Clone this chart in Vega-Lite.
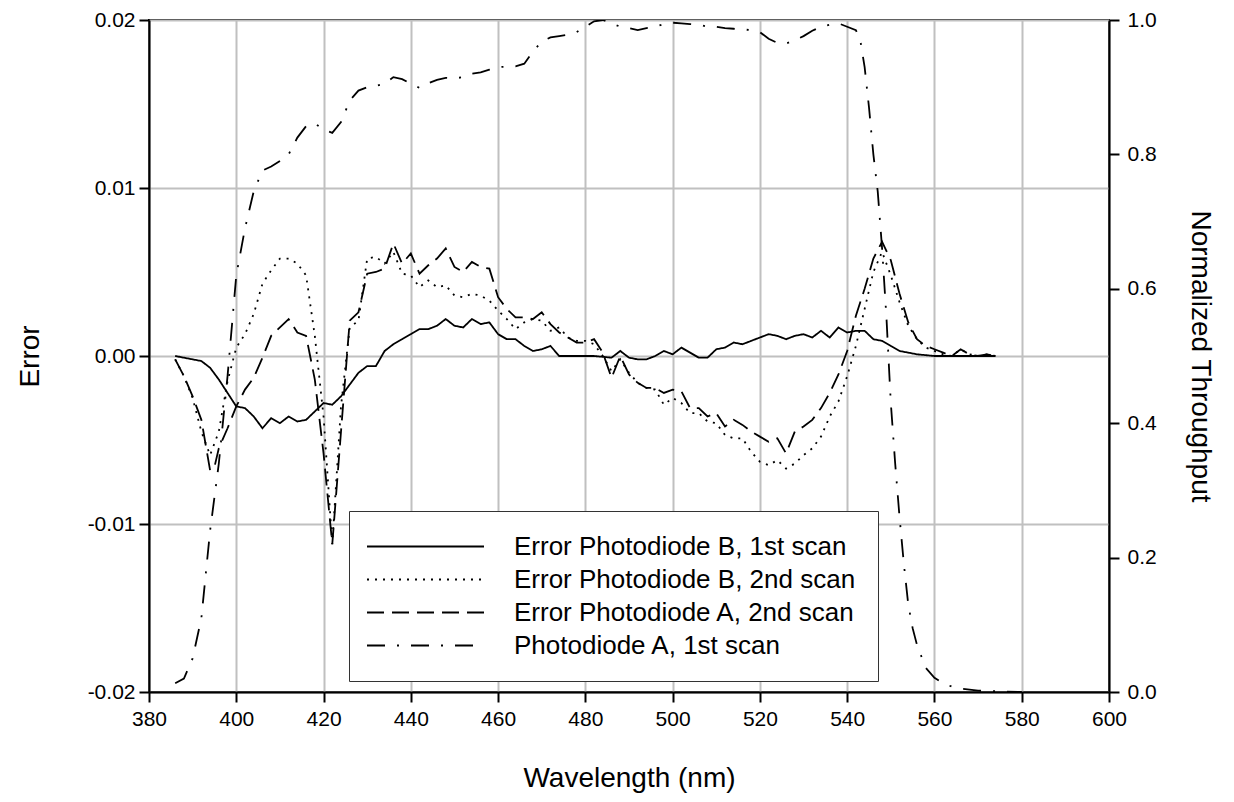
{
  "$schema": "https://vega.github.io/schema/vega-lite/v6.json",
  "width": 960,
  "height": 672,
  "autosize": "none",
  "padding": {"left": 149, "top": 20, "right": 125, "bottom": 110},
  "background": "white",
  "config": {
    "font": "Liberation Sans",
    "view": {"stroke": "black", "strokeWidth": 2},
    "axis": {
      "labelFont": "Liberation Sans", "titleFont": "Liberation Sans",
      "labelFontSize": 21, "titleFontSize": 28, "titleFontWeight": "normal",
      "labelColor": "black", "titleColor": "black",
      "domainColor": "black", "domainWidth": 2,
      "tickColor": "black", "tickWidth": 2, "tickSize": 10,
      "gridColor": "#c0c0c0", "gridWidth": 2, "gridOpacity": 1,
      "labelFlush": false, "labelOverlap": false
    },
    "legend": {
      "orient": "none", "legendX": 200, "legendY": 491,
      "padding": 22, "strokeColor": "#333333", "fillColor": "white", "strokeWidth": 1,
      "labelFont": "Liberation Sans", "labelFontSize": 26, "labelColor": "black", "labelLimit": 800,
      "symbolType": "M-4.68,0H4.68", "symbolSize": 625, "symbolStrokeWidth": 1.8,
      "symbolStrokeColor": "black", "symbolFillColor": "transparent",
      "symbolOffset": 41, "labelOffset": 75, "rowPadding": 6, "title": null
    }
  },
  "datasets": {
    "err": [
      {"series": "Error Photodiode B, 1st scan", "nm": 386, "v": 0},
      {"series": "Error Photodiode B, 1st scan", "nm": 388, "v": -0.0001},
      {"series": "Error Photodiode B, 1st scan", "nm": 390, "v": -0.0002},
      {"series": "Error Photodiode B, 1st scan", "nm": 392, "v": -0.0003},
      {"series": "Error Photodiode B, 1st scan", "nm": 394, "v": -0.0007},
      {"series": "Error Photodiode B, 1st scan", "nm": 396, "v": -0.0014},
      {"series": "Error Photodiode B, 1st scan", "nm": 398, "v": -0.0022},
      {"series": "Error Photodiode B, 1st scan", "nm": 400, "v": -0.0030},
      {"series": "Error Photodiode B, 1st scan", "nm": 402, "v": -0.0031},
      {"series": "Error Photodiode B, 1st scan", "nm": 404, "v": -0.0036},
      {"series": "Error Photodiode B, 1st scan", "nm": 406, "v": -0.0043},
      {"series": "Error Photodiode B, 1st scan", "nm": 408, "v": -0.0037},
      {"series": "Error Photodiode B, 1st scan", "nm": 410, "v": -0.0040},
      {"series": "Error Photodiode B, 1st scan", "nm": 412, "v": -0.0036},
      {"series": "Error Photodiode B, 1st scan", "nm": 414, "v": -0.0039},
      {"series": "Error Photodiode B, 1st scan", "nm": 416, "v": -0.0038},
      {"series": "Error Photodiode B, 1st scan", "nm": 418, "v": -0.0033},
      {"series": "Error Photodiode B, 1st scan", "nm": 420, "v": -0.0028},
      {"series": "Error Photodiode B, 1st scan", "nm": 422, "v": -0.0029},
      {"series": "Error Photodiode B, 1st scan", "nm": 424, "v": -0.0024},
      {"series": "Error Photodiode B, 1st scan", "nm": 426, "v": -0.0017},
      {"series": "Error Photodiode B, 1st scan", "nm": 428, "v": -0.0010},
      {"series": "Error Photodiode B, 1st scan", "nm": 430, "v": -0.0006},
      {"series": "Error Photodiode B, 1st scan", "nm": 432, "v": -0.0006},
      {"series": "Error Photodiode B, 1st scan", "nm": 434, "v": 0.0003},
      {"series": "Error Photodiode B, 1st scan", "nm": 436, "v": 0.0007},
      {"series": "Error Photodiode B, 1st scan", "nm": 438, "v": 0.0010},
      {"series": "Error Photodiode B, 1st scan", "nm": 440, "v": 0.0013},
      {"series": "Error Photodiode B, 1st scan", "nm": 442, "v": 0.0016},
      {"series": "Error Photodiode B, 1st scan", "nm": 444, "v": 0.0016},
      {"series": "Error Photodiode B, 1st scan", "nm": 446, "v": 0.0018},
      {"series": "Error Photodiode B, 1st scan", "nm": 448, "v": 0.0022},
      {"series": "Error Photodiode B, 1st scan", "nm": 450, "v": 0.0018},
      {"series": "Error Photodiode B, 1st scan", "nm": 452, "v": 0.0017},
      {"series": "Error Photodiode B, 1st scan", "nm": 454, "v": 0.0022},
      {"series": "Error Photodiode B, 1st scan", "nm": 456, "v": 0.0019},
      {"series": "Error Photodiode B, 1st scan", "nm": 458, "v": 0.0020},
      {"series": "Error Photodiode B, 1st scan", "nm": 460, "v": 0.0013},
      {"series": "Error Photodiode B, 1st scan", "nm": 462, "v": 0.0010},
      {"series": "Error Photodiode B, 1st scan", "nm": 464, "v": 0.0010},
      {"series": "Error Photodiode B, 1st scan", "nm": 466, "v": 0.0006},
      {"series": "Error Photodiode B, 1st scan", "nm": 468, "v": 0.0003},
      {"series": "Error Photodiode B, 1st scan", "nm": 470, "v": 0.0004},
      {"series": "Error Photodiode B, 1st scan", "nm": 472, "v": 0.0006},
      {"series": "Error Photodiode B, 1st scan", "nm": 474, "v": 0.0},
      {"series": "Error Photodiode B, 1st scan", "nm": 478, "v": 0.0},
      {"series": "Error Photodiode B, 1st scan", "nm": 482, "v": 0.0},
      {"series": "Error Photodiode B, 1st scan", "nm": 486, "v": -0.0001},
      {"series": "Error Photodiode B, 1st scan", "nm": 488, "v": 0.0003},
      {"series": "Error Photodiode B, 1st scan", "nm": 490, "v": -0.0001},
      {"series": "Error Photodiode B, 1st scan", "nm": 492, "v": -0.0002},
      {"series": "Error Photodiode B, 1st scan", "nm": 494, "v": -0.0002},
      {"series": "Error Photodiode B, 1st scan", "nm": 496, "v": 0.0},
      {"series": "Error Photodiode B, 1st scan", "nm": 498, "v": 0.0003},
      {"series": "Error Photodiode B, 1st scan", "nm": 500, "v": 0.0001},
      {"series": "Error Photodiode B, 1st scan", "nm": 502, "v": 0.0005},
      {"series": "Error Photodiode B, 1st scan", "nm": 504, "v": 0.0002},
      {"series": "Error Photodiode B, 1st scan", "nm": 506, "v": -0.0001},
      {"series": "Error Photodiode B, 1st scan", "nm": 508, "v": -0.0001},
      {"series": "Error Photodiode B, 1st scan", "nm": 510, "v": 0.0004},
      {"series": "Error Photodiode B, 1st scan", "nm": 512, "v": 0.0005},
      {"series": "Error Photodiode B, 1st scan", "nm": 514, "v": 0.0008},
      {"series": "Error Photodiode B, 1st scan", "nm": 516, "v": 0.0007},
      {"series": "Error Photodiode B, 1st scan", "nm": 518, "v": 0.0009},
      {"series": "Error Photodiode B, 1st scan", "nm": 520, "v": 0.0011},
      {"series": "Error Photodiode B, 1st scan", "nm": 522, "v": 0.0013},
      {"series": "Error Photodiode B, 1st scan", "nm": 524, "v": 0.0012},
      {"series": "Error Photodiode B, 1st scan", "nm": 526, "v": 0.0010},
      {"series": "Error Photodiode B, 1st scan", "nm": 528, "v": 0.0012},
      {"series": "Error Photodiode B, 1st scan", "nm": 530, "v": 0.0013},
      {"series": "Error Photodiode B, 1st scan", "nm": 532, "v": 0.0011},
      {"series": "Error Photodiode B, 1st scan", "nm": 534, "v": 0.0015},
      {"series": "Error Photodiode B, 1st scan", "nm": 536, "v": 0.0011},
      {"series": "Error Photodiode B, 1st scan", "nm": 538, "v": 0.0017},
      {"series": "Error Photodiode B, 1st scan", "nm": 540, "v": 0.0014},
      {"series": "Error Photodiode B, 1st scan", "nm": 542, "v": 0.0015},
      {"series": "Error Photodiode B, 1st scan", "nm": 544, "v": 0.0015},
      {"series": "Error Photodiode B, 1st scan", "nm": 546, "v": 0.0010},
      {"series": "Error Photodiode B, 1st scan", "nm": 548, "v": 0.0009},
      {"series": "Error Photodiode B, 1st scan", "nm": 550, "v": 0.0006},
      {"series": "Error Photodiode B, 1st scan", "nm": 552, "v": 0.0003},
      {"series": "Error Photodiode B, 1st scan", "nm": 554, "v": 0.0002},
      {"series": "Error Photodiode B, 1st scan", "nm": 556, "v": 0.0001},
      {"series": "Error Photodiode B, 1st scan", "nm": 560, "v": 0.0},
      {"series": "Error Photodiode B, 1st scan", "nm": 566, "v": 0.0},
      {"series": "Error Photodiode B, 1st scan", "nm": 574, "v": 0.0},

      {"series": "Error Photodiode B, 2nd scan", "nm": 386, "v": -0.0002},
      {"series": "Error Photodiode B, 2nd scan", "nm": 388, "v": -0.0012},
      {"series": "Error Photodiode B, 2nd scan", "nm": 390, "v": -0.0025},
      {"series": "Error Photodiode B, 2nd scan", "nm": 392, "v": -0.0045},
      {"series": "Error Photodiode B, 2nd scan", "nm": 394, "v": -0.0059},
      {"series": "Error Photodiode B, 2nd scan", "nm": 396, "v": -0.0045},
      {"series": "Error Photodiode B, 2nd scan", "nm": 398, "v": -0.0015},
      {"series": "Error Photodiode B, 2nd scan", "nm": 400, "v": 0.0005},
      {"series": "Error Photodiode B, 2nd scan", "nm": 402, "v": 0.0013},
      {"series": "Error Photodiode B, 2nd scan", "nm": 404, "v": 0.0025},
      {"series": "Error Photodiode B, 2nd scan", "nm": 406, "v": 0.0043},
      {"series": "Error Photodiode B, 2nd scan", "nm": 408, "v": 0.0051},
      {"series": "Error Photodiode B, 2nd scan", "nm": 410, "v": 0.0058},
      {"series": "Error Photodiode B, 2nd scan", "nm": 412, "v": 0.0058},
      {"series": "Error Photodiode B, 2nd scan", "nm": 414, "v": 0.0055},
      {"series": "Error Photodiode B, 2nd scan", "nm": 416, "v": 0.0048},
      {"series": "Error Photodiode B, 2nd scan", "nm": 418, "v": 0.0012},
      {"series": "Error Photodiode B, 2nd scan", "nm": 420, "v": -0.0036},
      {"series": "Error Photodiode B, 2nd scan", "nm": 422, "v": -0.0112},
      {"series": "Error Photodiode B, 2nd scan", "nm": 424, "v": -0.0030},
      {"series": "Error Photodiode B, 2nd scan", "nm": 426, "v": 0.0017},
      {"series": "Error Photodiode B, 2nd scan", "nm": 428, "v": 0.0021},
      {"series": "Error Photodiode B, 2nd scan", "nm": 430, "v": 0.0058},
      {"series": "Error Photodiode B, 2nd scan", "nm": 432, "v": 0.0059},
      {"series": "Error Photodiode B, 2nd scan", "nm": 434, "v": 0.0055},
      {"series": "Error Photodiode B, 2nd scan", "nm": 436, "v": 0.0062},
      {"series": "Error Photodiode B, 2nd scan", "nm": 438, "v": 0.0049},
      {"series": "Error Photodiode B, 2nd scan", "nm": 440, "v": 0.0048},
      {"series": "Error Photodiode B, 2nd scan", "nm": 442, "v": 0.0041},
      {"series": "Error Photodiode B, 2nd scan", "nm": 444, "v": 0.0045},
      {"series": "Error Photodiode B, 2nd scan", "nm": 446, "v": 0.0041},
      {"series": "Error Photodiode B, 2nd scan", "nm": 448, "v": 0.0042},
      {"series": "Error Photodiode B, 2nd scan", "nm": 450, "v": 0.0036},
      {"series": "Error Photodiode B, 2nd scan", "nm": 452, "v": 0.0035},
      {"series": "Error Photodiode B, 2nd scan", "nm": 454, "v": 0.0037},
      {"series": "Error Photodiode B, 2nd scan", "nm": 456, "v": 0.0036},
      {"series": "Error Photodiode B, 2nd scan", "nm": 458, "v": 0.0033},
      {"series": "Error Photodiode B, 2nd scan", "nm": 460, "v": 0.0027},
      {"series": "Error Photodiode B, 2nd scan", "nm": 462, "v": 0.0022},
      {"series": "Error Photodiode B, 2nd scan", "nm": 464, "v": 0.0016},
      {"series": "Error Photodiode B, 2nd scan", "nm": 466, "v": 0.0020},
      {"series": "Error Photodiode B, 2nd scan", "nm": 468, "v": 0.0022},
      {"series": "Error Photodiode B, 2nd scan", "nm": 470, "v": 0.0021},
      {"series": "Error Photodiode B, 2nd scan", "nm": 472, "v": 0.0015},
      {"series": "Error Photodiode B, 2nd scan", "nm": 474, "v": 0.0017},
      {"series": "Error Photodiode B, 2nd scan", "nm": 476, "v": 0.0011},
      {"series": "Error Photodiode B, 2nd scan", "nm": 478, "v": 0.0009},
      {"series": "Error Photodiode B, 2nd scan", "nm": 480, "v": 0.0009},
      {"series": "Error Photodiode B, 2nd scan", "nm": 482, "v": 0.0007},
      {"series": "Error Photodiode B, 2nd scan", "nm": 484, "v": 0.0},
      {"series": "Error Photodiode B, 2nd scan", "nm": 486, "v": -0.0009},
      {"series": "Error Photodiode B, 2nd scan", "nm": 488, "v": -0.0002},
      {"series": "Error Photodiode B, 2nd scan", "nm": 490, "v": -0.0010},
      {"series": "Error Photodiode B, 2nd scan", "nm": 492, "v": -0.0016},
      {"series": "Error Photodiode B, 2nd scan", "nm": 494, "v": -0.0019},
      {"series": "Error Photodiode B, 2nd scan", "nm": 496, "v": -0.0020},
      {"series": "Error Photodiode B, 2nd scan", "nm": 498, "v": -0.0029},
      {"series": "Error Photodiode B, 2nd scan", "nm": 500, "v": -0.0025},
      {"series": "Error Photodiode B, 2nd scan", "nm": 502, "v": -0.0028},
      {"series": "Error Photodiode B, 2nd scan", "nm": 504, "v": -0.0034},
      {"series": "Error Photodiode B, 2nd scan", "nm": 506, "v": -0.0034},
      {"series": "Error Photodiode B, 2nd scan", "nm": 508, "v": -0.0039},
      {"series": "Error Photodiode B, 2nd scan", "nm": 510, "v": -0.0040},
      {"series": "Error Photodiode B, 2nd scan", "nm": 512, "v": -0.0047},
      {"series": "Error Photodiode B, 2nd scan", "nm": 514, "v": -0.0049},
      {"series": "Error Photodiode B, 2nd scan", "nm": 516, "v": -0.0049},
      {"series": "Error Photodiode B, 2nd scan", "nm": 518, "v": -0.0057},
      {"series": "Error Photodiode B, 2nd scan", "nm": 520, "v": -0.0063},
      {"series": "Error Photodiode B, 2nd scan", "nm": 522, "v": -0.0065},
      {"series": "Error Photodiode B, 2nd scan", "nm": 524, "v": -0.0062},
      {"series": "Error Photodiode B, 2nd scan", "nm": 526, "v": -0.0067},
      {"series": "Error Photodiode B, 2nd scan", "nm": 528, "v": -0.0064},
      {"series": "Error Photodiode B, 2nd scan", "nm": 530, "v": -0.0059},
      {"series": "Error Photodiode B, 2nd scan", "nm": 532, "v": -0.0055},
      {"series": "Error Photodiode B, 2nd scan", "nm": 534, "v": -0.0048},
      {"series": "Error Photodiode B, 2nd scan", "nm": 536, "v": -0.0036},
      {"series": "Error Photodiode B, 2nd scan", "nm": 538, "v": -0.0027},
      {"series": "Error Photodiode B, 2nd scan", "nm": 540, "v": -0.0012},
      {"series": "Error Photodiode B, 2nd scan", "nm": 542, "v": 0.0006},
      {"series": "Error Photodiode B, 2nd scan", "nm": 544, "v": 0.0028},
      {"series": "Error Photodiode B, 2nd scan", "nm": 546, "v": 0.0050},
      {"series": "Error Photodiode B, 2nd scan", "nm": 548, "v": 0.0062},
      {"series": "Error Photodiode B, 2nd scan", "nm": 550, "v": 0.0048},
      {"series": "Error Photodiode B, 2nd scan", "nm": 552, "v": 0.0032},
      {"series": "Error Photodiode B, 2nd scan", "nm": 554, "v": 0.0018},
      {"series": "Error Photodiode B, 2nd scan", "nm": 556, "v": 0.0010},
      {"series": "Error Photodiode B, 2nd scan", "nm": 558, "v": 0.0005},
      {"series": "Error Photodiode B, 2nd scan", "nm": 560, "v": 0.0003},
      {"series": "Error Photodiode B, 2nd scan", "nm": 562, "v": 0.0001},
      {"series": "Error Photodiode B, 2nd scan", "nm": 564, "v": 0.0},
      {"series": "Error Photodiode B, 2nd scan", "nm": 566, "v": 0.0004},
      {"series": "Error Photodiode B, 2nd scan", "nm": 568, "v": 0.0001},
      {"series": "Error Photodiode B, 2nd scan", "nm": 570, "v": 0.0},
      {"series": "Error Photodiode B, 2nd scan", "nm": 572, "v": 0.0001},
      {"series": "Error Photodiode B, 2nd scan", "nm": 574, "v": 0.0},

      {"series": "Error Photodiode A, 2nd scan", "nm": 386, "v": -0.0002},
      {"series": "Error Photodiode A, 2nd scan", "nm": 388, "v": -0.0012},
      {"series": "Error Photodiode A, 2nd scan", "nm": 390, "v": -0.0024},
      {"series": "Error Photodiode A, 2nd scan", "nm": 392, "v": -0.0038},
      {"series": "Error Photodiode A, 2nd scan", "nm": 394, "v": -0.0068},
      {"series": "Error Photodiode A, 2nd scan", "nm": 395, "v": -0.0066},
      {"series": "Error Photodiode A, 2nd scan", "nm": 396, "v": -0.0055},
      {"series": "Error Photodiode A, 2nd scan", "nm": 398, "v": -0.0043},
      {"series": "Error Photodiode A, 2nd scan", "nm": 400, "v": -0.0030},
      {"series": "Error Photodiode A, 2nd scan", "nm": 402, "v": -0.0020},
      {"series": "Error Photodiode A, 2nd scan", "nm": 404, "v": -0.0013},
      {"series": "Error Photodiode A, 2nd scan", "nm": 406, "v": -0.0001},
      {"series": "Error Photodiode A, 2nd scan", "nm": 408, "v": 0.0012},
      {"series": "Error Photodiode A, 2nd scan", "nm": 410, "v": 0.0017},
      {"series": "Error Photodiode A, 2nd scan", "nm": 412, "v": 0.0022},
      {"series": "Error Photodiode A, 2nd scan", "nm": 414, "v": 0.0014},
      {"series": "Error Photodiode A, 2nd scan", "nm": 416, "v": 0.0012},
      {"series": "Error Photodiode A, 2nd scan", "nm": 418, "v": -0.0014},
      {"series": "Error Photodiode A, 2nd scan", "nm": 420, "v": -0.0058},
      {"series": "Error Photodiode A, 2nd scan", "nm": 422, "v": -0.0112},
      {"series": "Error Photodiode A, 2nd scan", "nm": 424, "v": -0.0045},
      {"series": "Error Photodiode A, 2nd scan", "nm": 426, "v": 0.0021},
      {"series": "Error Photodiode A, 2nd scan", "nm": 428, "v": 0.0026},
      {"series": "Error Photodiode A, 2nd scan", "nm": 430, "v": 0.0049},
      {"series": "Error Photodiode A, 2nd scan", "nm": 432, "v": 0.0050},
      {"series": "Error Photodiode A, 2nd scan", "nm": 434, "v": 0.0052},
      {"series": "Error Photodiode A, 2nd scan", "nm": 436, "v": 0.0067},
      {"series": "Error Photodiode A, 2nd scan", "nm": 438, "v": 0.0055},
      {"series": "Error Photodiode A, 2nd scan", "nm": 440, "v": 0.0061},
      {"series": "Error Photodiode A, 2nd scan", "nm": 442, "v": 0.0049},
      {"series": "Error Photodiode A, 2nd scan", "nm": 444, "v": 0.0054},
      {"series": "Error Photodiode A, 2nd scan", "nm": 446, "v": 0.0058},
      {"series": "Error Photodiode A, 2nd scan", "nm": 448, "v": 0.0064},
      {"series": "Error Photodiode A, 2nd scan", "nm": 450, "v": 0.0053},
      {"series": "Error Photodiode A, 2nd scan", "nm": 452, "v": 0.0050},
      {"series": "Error Photodiode A, 2nd scan", "nm": 454, "v": 0.0056},
      {"series": "Error Photodiode A, 2nd scan", "nm": 456, "v": 0.0053},
      {"series": "Error Photodiode A, 2nd scan", "nm": 458, "v": 0.0052},
      {"series": "Error Photodiode A, 2nd scan", "nm": 460, "v": 0.0035},
      {"series": "Error Photodiode A, 2nd scan", "nm": 462, "v": 0.0028},
      {"series": "Error Photodiode A, 2nd scan", "nm": 464, "v": 0.0023},
      {"series": "Error Photodiode A, 2nd scan", "nm": 466, "v": 0.0023},
      {"series": "Error Photodiode A, 2nd scan", "nm": 468, "v": 0.0022},
      {"series": "Error Photodiode A, 2nd scan", "nm": 470, "v": 0.0026},
      {"series": "Error Photodiode A, 2nd scan", "nm": 472, "v": 0.0019},
      {"series": "Error Photodiode A, 2nd scan", "nm": 474, "v": 0.0014},
      {"series": "Error Photodiode A, 2nd scan", "nm": 476, "v": 0.0011},
      {"series": "Error Photodiode A, 2nd scan", "nm": 478, "v": 0.0008},
      {"series": "Error Photodiode A, 2nd scan", "nm": 480, "v": 0.0008},
      {"series": "Error Photodiode A, 2nd scan", "nm": 482, "v": 0.0010},
      {"series": "Error Photodiode A, 2nd scan", "nm": 484, "v": 0.0002},
      {"series": "Error Photodiode A, 2nd scan", "nm": 486, "v": -0.0013},
      {"series": "Error Photodiode A, 2nd scan", "nm": 488, "v": 0.0},
      {"series": "Error Photodiode A, 2nd scan", "nm": 490, "v": -0.0011},
      {"series": "Error Photodiode A, 2nd scan", "nm": 492, "v": -0.0016},
      {"series": "Error Photodiode A, 2nd scan", "nm": 494, "v": -0.0019},
      {"series": "Error Photodiode A, 2nd scan", "nm": 496, "v": -0.0019},
      {"series": "Error Photodiode A, 2nd scan", "nm": 498, "v": -0.0022},
      {"series": "Error Photodiode A, 2nd scan", "nm": 500, "v": -0.0020},
      {"series": "Error Photodiode A, 2nd scan", "nm": 502, "v": -0.0021},
      {"series": "Error Photodiode A, 2nd scan", "nm": 504, "v": -0.0031},
      {"series": "Error Photodiode A, 2nd scan", "nm": 506, "v": -0.0031},
      {"series": "Error Photodiode A, 2nd scan", "nm": 508, "v": -0.0036},
      {"series": "Error Photodiode A, 2nd scan", "nm": 510, "v": -0.0034},
      {"series": "Error Photodiode A, 2nd scan", "nm": 512, "v": -0.0042},
      {"series": "Error Photodiode A, 2nd scan", "nm": 514, "v": -0.0038},
      {"series": "Error Photodiode A, 2nd scan", "nm": 516, "v": -0.0041},
      {"series": "Error Photodiode A, 2nd scan", "nm": 518, "v": -0.0045},
      {"series": "Error Photodiode A, 2nd scan", "nm": 520, "v": -0.0048},
      {"series": "Error Photodiode A, 2nd scan", "nm": 522, "v": -0.0051},
      {"series": "Error Photodiode A, 2nd scan", "nm": 524, "v": -0.0049},
      {"series": "Error Photodiode A, 2nd scan", "nm": 526, "v": -0.0058},
      {"series": "Error Photodiode A, 2nd scan", "nm": 528, "v": -0.0045},
      {"series": "Error Photodiode A, 2nd scan", "nm": 530, "v": -0.0042},
      {"series": "Error Photodiode A, 2nd scan", "nm": 532, "v": -0.0038},
      {"series": "Error Photodiode A, 2nd scan", "nm": 534, "v": -0.0031},
      {"series": "Error Photodiode A, 2nd scan", "nm": 536, "v": -0.0022},
      {"series": "Error Photodiode A, 2nd scan", "nm": 538, "v": -0.0011},
      {"series": "Error Photodiode A, 2nd scan", "nm": 540, "v": 0.0003},
      {"series": "Error Photodiode A, 2nd scan", "nm": 542, "v": 0.0024},
      {"series": "Error Photodiode A, 2nd scan", "nm": 544, "v": 0.0040},
      {"series": "Error Photodiode A, 2nd scan", "nm": 546, "v": 0.0058},
      {"series": "Error Photodiode A, 2nd scan", "nm": 548, "v": 0.0068},
      {"series": "Error Photodiode A, 2nd scan", "nm": 550, "v": 0.0057},
      {"series": "Error Photodiode A, 2nd scan", "nm": 552, "v": 0.0037},
      {"series": "Error Photodiode A, 2nd scan", "nm": 554, "v": 0.0020},
      {"series": "Error Photodiode A, 2nd scan", "nm": 556, "v": 0.0010},
      {"series": "Error Photodiode A, 2nd scan", "nm": 558, "v": 0.0006},
      {"series": "Error Photodiode A, 2nd scan", "nm": 560, "v": 0.0004},
      {"series": "Error Photodiode A, 2nd scan", "nm": 562, "v": 0.0002},
      {"series": "Error Photodiode A, 2nd scan", "nm": 564, "v": 0.0},
      {"series": "Error Photodiode A, 2nd scan", "nm": 566, "v": 0.0004},
      {"series": "Error Photodiode A, 2nd scan", "nm": 568, "v": 0.0001},
      {"series": "Error Photodiode A, 2nd scan", "nm": 570, "v": 0.0},
      {"series": "Error Photodiode A, 2nd scan", "nm": 572, "v": 0.0001},
      {"series": "Error Photodiode A, 2nd scan", "nm": 574, "v": 0.0}
    ],
    "thr": [
      {"series": "Photodiode A, 1st scan", "nm": 386, "t": 0.013},
      {"series": "Photodiode A, 1st scan", "nm": 388, "t": 0.02},
      {"series": "Photodiode A, 1st scan", "nm": 390, "t": 0.05},
      {"series": "Photodiode A, 1st scan", "nm": 392, "t": 0.11},
      {"series": "Photodiode A, 1st scan", "nm": 394, "t": 0.24},
      {"series": "Photodiode A, 1st scan", "nm": 396, "t": 0.34},
      {"series": "Photodiode A, 1st scan", "nm": 398, "t": 0.47},
      {"series": "Photodiode A, 1st scan", "nm": 400, "t": 0.62},
      {"series": "Photodiode A, 1st scan", "nm": 402, "t": 0.69},
      {"series": "Photodiode A, 1st scan", "nm": 404, "t": 0.745},
      {"series": "Photodiode A, 1st scan", "nm": 406, "t": 0.776},
      {"series": "Photodiode A, 1st scan", "nm": 408, "t": 0.782},
      {"series": "Photodiode A, 1st scan", "nm": 410, "t": 0.79},
      {"series": "Photodiode A, 1st scan", "nm": 412, "t": 0.80},
      {"series": "Photodiode A, 1st scan", "nm": 414, "t": 0.825},
      {"series": "Photodiode A, 1st scan", "nm": 416, "t": 0.842},
      {"series": "Photodiode A, 1st scan", "nm": 418, "t": 0.846},
      {"series": "Photodiode A, 1st scan", "nm": 420, "t": 0.837},
      {"series": "Photodiode A, 1st scan", "nm": 422, "t": 0.832},
      {"series": "Photodiode A, 1st scan", "nm": 424, "t": 0.848},
      {"series": "Photodiode A, 1st scan", "nm": 426, "t": 0.88},
      {"series": "Photodiode A, 1st scan", "nm": 428, "t": 0.895},
      {"series": "Photodiode A, 1st scan", "nm": 430, "t": 0.90},
      {"series": "Photodiode A, 1st scan", "nm": 432, "t": 0.902},
      {"series": "Photodiode A, 1st scan", "nm": 434, "t": 0.905},
      {"series": "Photodiode A, 1st scan", "nm": 436, "t": 0.915},
      {"series": "Photodiode A, 1st scan", "nm": 438, "t": 0.912},
      {"series": "Photodiode A, 1st scan", "nm": 440, "t": 0.905},
      {"series": "Photodiode A, 1st scan", "nm": 442, "t": 0.899},
      {"series": "Photodiode A, 1st scan", "nm": 444, "t": 0.906},
      {"series": "Photodiode A, 1st scan", "nm": 446, "t": 0.911},
      {"series": "Photodiode A, 1st scan", "nm": 448, "t": 0.914},
      {"series": "Photodiode A, 1st scan", "nm": 450, "t": 0.913},
      {"series": "Photodiode A, 1st scan", "nm": 452, "t": 0.915},
      {"series": "Photodiode A, 1st scan", "nm": 454, "t": 0.92},
      {"series": "Photodiode A, 1st scan", "nm": 456, "t": 0.922},
      {"series": "Photodiode A, 1st scan", "nm": 458, "t": 0.926},
      {"series": "Photodiode A, 1st scan", "nm": 460, "t": 0.930},
      {"series": "Photodiode A, 1st scan", "nm": 464, "t": 0.931},
      {"series": "Photodiode A, 1st scan", "nm": 466, "t": 0.935},
      {"series": "Photodiode A, 1st scan", "nm": 468, "t": 0.953},
      {"series": "Photodiode A, 1st scan", "nm": 470, "t": 0.968},
      {"series": "Photodiode A, 1st scan", "nm": 472, "t": 0.974},
      {"series": "Photodiode A, 1st scan", "nm": 474, "t": 0.976},
      {"series": "Photodiode A, 1st scan", "nm": 476, "t": 0.978},
      {"series": "Photodiode A, 1st scan", "nm": 478, "t": 0.982},
      {"series": "Photodiode A, 1st scan", "nm": 480, "t": 0.99},
      {"series": "Photodiode A, 1st scan", "nm": 482, "t": 0.998},
      {"series": "Photodiode A, 1st scan", "nm": 484, "t": 1.0},
      {"series": "Photodiode A, 1st scan", "nm": 486, "t": 0.995},
      {"series": "Photodiode A, 1st scan", "nm": 488, "t": 0.99},
      {"series": "Photodiode A, 1st scan", "nm": 490, "t": 0.988},
      {"series": "Photodiode A, 1st scan", "nm": 492, "t": 0.985},
      {"series": "Photodiode A, 1st scan", "nm": 494, "t": 0.988},
      {"series": "Photodiode A, 1st scan", "nm": 496, "t": 0.99},
      {"series": "Photodiode A, 1st scan", "nm": 498, "t": 0.994},
      {"series": "Photodiode A, 1st scan", "nm": 500, "t": 0.996},
      {"series": "Photodiode A, 1st scan", "nm": 502, "t": 0.995},
      {"series": "Photodiode A, 1st scan", "nm": 504, "t": 0.994},
      {"series": "Photodiode A, 1st scan", "nm": 506, "t": 0.993},
      {"series": "Photodiode A, 1st scan", "nm": 508, "t": 0.99},
      {"series": "Photodiode A, 1st scan", "nm": 510, "t": 0.99},
      {"series": "Photodiode A, 1st scan", "nm": 512, "t": 0.988},
      {"series": "Photodiode A, 1st scan", "nm": 514, "t": 0.987},
      {"series": "Photodiode A, 1st scan", "nm": 516, "t": 0.986},
      {"series": "Photodiode A, 1st scan", "nm": 518, "t": 0.985},
      {"series": "Photodiode A, 1st scan", "nm": 520, "t": 0.982},
      {"series": "Photodiode A, 1st scan", "nm": 522, "t": 0.972},
      {"series": "Photodiode A, 1st scan", "nm": 524, "t": 0.966},
      {"series": "Photodiode A, 1st scan", "nm": 526, "t": 0.965},
      {"series": "Photodiode A, 1st scan", "nm": 528, "t": 0.97},
      {"series": "Photodiode A, 1st scan", "nm": 530, "t": 0.976},
      {"series": "Photodiode A, 1st scan", "nm": 532, "t": 0.984},
      {"series": "Photodiode A, 1st scan", "nm": 534, "t": 0.99},
      {"series": "Photodiode A, 1st scan", "nm": 536, "t": 0.993},
      {"series": "Photodiode A, 1st scan", "nm": 538, "t": 0.995},
      {"series": "Photodiode A, 1st scan", "nm": 540, "t": 0.99},
      {"series": "Photodiode A, 1st scan", "nm": 542, "t": 0.985},
      {"series": "Photodiode A, 1st scan", "nm": 543, "t": 0.97},
      {"series": "Photodiode A, 1st scan", "nm": 544, "t": 0.93},
      {"series": "Photodiode A, 1st scan", "nm": 545, "t": 0.87},
      {"series": "Photodiode A, 1st scan", "nm": 546, "t": 0.80},
      {"series": "Photodiode A, 1st scan", "nm": 547, "t": 0.745},
      {"series": "Photodiode A, 1st scan", "nm": 548, "t": 0.66},
      {"series": "Photodiode A, 1st scan", "nm": 549, "t": 0.557},
      {"series": "Photodiode A, 1st scan", "nm": 550, "t": 0.43},
      {"series": "Photodiode A, 1st scan", "nm": 551, "t": 0.34},
      {"series": "Photodiode A, 1st scan", "nm": 552, "t": 0.26},
      {"series": "Photodiode A, 1st scan", "nm": 553, "t": 0.19},
      {"series": "Photodiode A, 1st scan", "nm": 554, "t": 0.13},
      {"series": "Photodiode A, 1st scan", "nm": 555, "t": 0.095},
      {"series": "Photodiode A, 1st scan", "nm": 556, "t": 0.07},
      {"series": "Photodiode A, 1st scan", "nm": 558, "t": 0.036},
      {"series": "Photodiode A, 1st scan", "nm": 560, "t": 0.021},
      {"series": "Photodiode A, 1st scan", "nm": 562, "t": 0.013},
      {"series": "Photodiode A, 1st scan", "nm": 564, "t": 0.008},
      {"series": "Photodiode A, 1st scan", "nm": 566, "t": 0.005},
      {"series": "Photodiode A, 1st scan", "nm": 570, "t": 0.002},
      {"series": "Photodiode A, 1st scan", "nm": 575, "t": 0.001},
      {"series": "Photodiode A, 1st scan", "nm": 580, "t": 0.0}
    ]
  },
  "encoding": {
    "x": {
      "field": "nm", "type": "quantitative",
      "scale": {"domain": [380, 600], "nice": false, "zero": false},
      "axis": {
        "title": "Wavelength (nm)", "values": [380, 400, 420, 440, 460, 480, 500, 520, 540, 560, 580, 600],
        "format": "d", "grid": true, "labelPadding": 6, "titlePadding": 35
      }
    },
    "strokeDash": {
      "field": "series", "type": "nominal",
      "scale": {
        "domain": ["Error Photodiode B, 1st scan", "Error Photodiode B, 2nd scan", "Error Photodiode A, 2nd scan", "Photodiode A, 1st scan"],
        "range": [[1, 0], [2, 6], [17, 8], [18, 12, 2, 12]]
      },
      "legend": {"labelExpr": "datum.label + '\u00a0'"}
    }
  },
  "layer": [
    {
      "data": {"name": "err"},
      "mark": {"type": "line", "color": "black", "strokeWidth": 1.8, "clip": true},
      "encoding": {
        "y": {
          "field": "v", "type": "quantitative",
          "scale": {"domain": [-0.02, 0.02], "nice": false},
          "axis": {
            "title": "Error", "orient": "left", "grid": true,
            "values": [-0.02, -0.01, 0, 0.01, 0.02],
            "labelExpr": "datum.value < 0 ? '-' + format(-datum.value, '.2f') : format(datum.value, '.2f')",
            "labelPadding": 4, "titlePadding": 43
          }
        }
      }
    },
    {
      "data": {"name": "thr"},
      "mark": {"type": "line", "color": "black", "strokeWidth": 1.8, "clip": true},
      "encoding": {
        "y": {
          "field": "t", "type": "quantitative",
          "scale": {"domain": [0, 1], "nice": false},
          "axis": {
            "title": "Normalized Throughput", "orient": "right", "grid": false,
            "values": [0, 0.2, 0.4, 0.6, 0.8, 1.0], "format": ".1f",
            "labelPadding": 8, "titlePadding": 29
          }
        }
      }
    }
  ],
  "resolve": {"scale": {"y": "independent"}}
}
